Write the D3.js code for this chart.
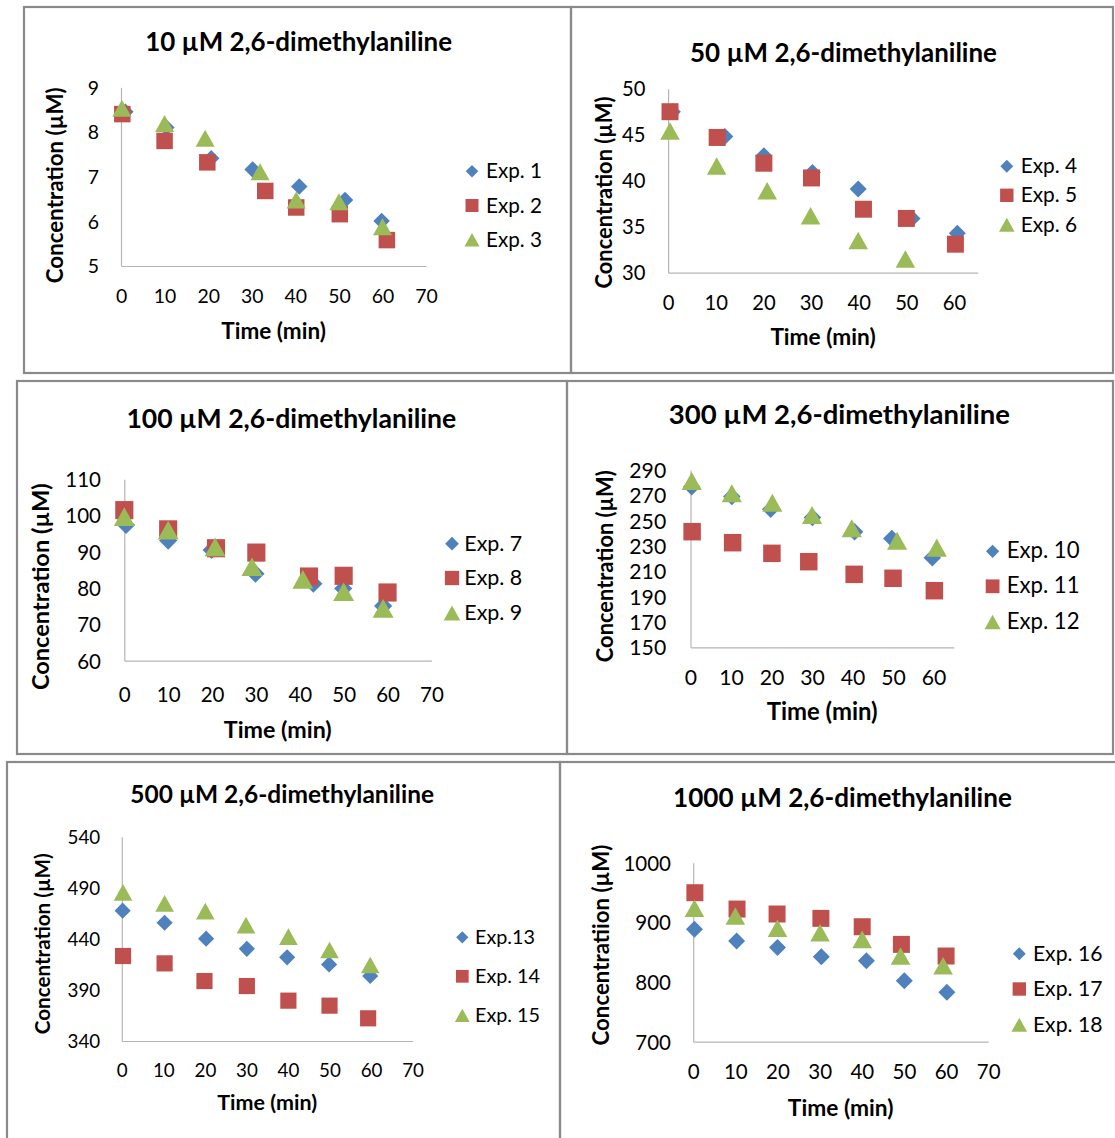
<!DOCTYPE html>
<html><head><meta charset="utf-8">
<script src="https://cdn.jsdelivr.net/npm/d3@7"></script>
<style>
body{margin:0;background:#fff}
svg{display:block}
text{font-family:Lato,"Open Sans",sans-serif;fill:#000}
</style>
</head><body>
<svg id="chart" width="1115" height="1138"></svg>
<script>
// ---------- data ----------
const panelTitles = ["10 µM 2,6-dimethylaniline","50 µM 2,6-dimethylaniline","100 µM 2,6-dimethylaniline",
  "300 µM 2,6-dimethylaniline","500 µM 2,6-dimethylaniline","1000 µM 2,6-dimethylaniline"];
const yAxisTitles = ["Concentration (µM)","Concentration (µM)","Concentration (µM)",
  "Concentration (µM)","Concentration (µM)","Concentratiion (µM)"];
const xAxisTitle = "Time (min)";
const legendLabels = [["Exp. 1","Exp. 2","Exp. 3"],["Exp. 4","Exp. 5","Exp. 6"],["Exp. 7","Exp. 8","Exp. 9"],
  ["Exp. 10","Exp. 11","Exp. 12"],["Exp.13","Exp. 14","Exp. 15"],["Exp. 16","Exp. 17","Exp. 18"]];

const xTicks70 = [0,10,20,30,40,50,60,70];
const xTicks60 = [0,10,20,30,40,50,60];
const yTicks1 = [5,6,7,8,9];
const yTicks2 = [30,35,40,45,50];
const yTicks3 = [60,70,80,90,100,110];
const yTicks4 = [150,170,190,210,230,250,270,290];
const yTicks5 = [340,390,440,490,540];
const yTicks6 = [700,800,900,1000];

// [time (min), concentration (µM)]
const exp1  = [[1.0,8.45],[10.4,8.10],[20.7,7.41],[30.2,7.16],[40.9,6.78],[51.4,6.48],[59.8,6.01]];
const exp2  = [[0.3,8.40],[10.0,7.80],[19.8,7.32],[33.1,6.68],[40.2,6.31],[50.2,6.16],[61.0,5.58]];
const exp3  = [[0.2,8.53],[10.0,8.19],[19.3,7.86],[31.9,7.11],[40.2,6.48],[50.0,6.44],[60.0,5.88]];
const exp4  = [[0.9,47.5],[11.9,44.8],[20.1,42.7],[30.3,40.9],[39.9,39.1],[51.2,35.9],[60.7,34.3]];
const exp5  = [[0.4,47.5],[10.3,44.7],[20.1,41.9],[30.1,40.3],[41.0,36.9],[50.0,35.9],[60.3,33.1]];
const exp6  = [[0.4,45.4],[10.2,41.6],[20.8,38.9],[29.9,36.2],[39.9,33.5],[49.8,31.5]];
const exp7  = [[0.4,97.4],[10.0,93.1],[19.9,90.5],[29.9,84.0],[43.1,81.2],[49.9,79.9],[59.0,75.1]];
const exp8  = [[0.0,101.5],[10.0,96.2],[20.9,91.0],[30.1,89.8],[42.1,83.2],[50.0,83.4],[60.0,78.8]];
const exp9  = [[0.0,99.7],[10.0,96.0],[20.7,91.4],[29.1,85.9],[40.7,82.4],[50.0,79.0],[59.0,74.4]];
const exp10 = [[0.3,276.8],[10.2,269.0],[19.8,259.0],[30.1,252.4],[40.5,241.3],[49.7,236.0],[59.7,220.8]];
const exp11 = [[0.4,241.3],[10.4,232.6],[20.1,224.2],[29.2,217.6],[40.4,207.6],[50.0,204.5],[60.2,194.7]];
const exp12 = [[0.3,281.3],[10.2,271.6],[20.2,264.2],[30.0,254.5],[39.8,244.0],[51.0,234.2],[60.8,228.7]];
const exp13 = [[0.2,467.6],[10.3,455.8],[20.3,440.2],[30.1,430.2],[39.8,421.9],[49.9,415.0],[59.8,403.6]];
const exp14 = [[0.3,423.2],[10.3,416.0],[19.9,398.7],[30.1,393.8],[40.1,379.5],[50.0,374.6],[59.3,362.2]];
const exp15 = [[0.3,485.5],[10.3,474.7],[20.1,467.2],[29.9,453.5],[40.1,442.1],[50.0,429.1],[59.8,414.4]];
const exp16 = [[0.3,888.3],[10.3,868.7],[20.0,858.0],[30.4,842.5],[41.1,835.8],[50.1,802.2],[60.2,782.7]];
const exp17 = [[0.4,949.7],[10.4,922.3],[19.9,914.0],[30.3,906.7],[40.1,892.7],[49.4,863.1],[60.0,843.6]];
const exp18 = [[0.3,923.5],[10.0,910.6],[20.0,890.0],[30.1,882.7],[40.1,871.5],[49.2,843.6],[59.3,827.4]];

const panelSeries = [[exp1,exp2,exp3],[exp4,exp5,exp6],[exp7,exp8,exp9],
  [exp10,exp11,exp12],[exp13,exp14,exp15],[exp16,exp17,exp18]];
const xDomains = [[0,70],[0,65],[0,70],[0,65],[0,70],[0,70]];
const yDomains = [[5,9],[30,50],[60,110],[150,290],[340,540],[700,1000]];
const xTickSets = [xTicks70,xTicks60,xTicks70,xTicks60,xTicks70,xTicks70];
const yTickSets = [yTicks1,yTicks2,yTicks3,yTicks4,yTicks5,yTicks6];

// ---------- layout ----------
const layout = [
 {frame:[24,7,571,373], x0:121, x1:426.1, yTop:87.3, yBot:266, labelRight:99, tickBase:303.3, tickFs:19.4,
  title:[298.6,50.7,307], xTitle:[273.6,339.3,104.6], yTitle:[54.8,185.3,196],
  legX:472, legTextX:486, legBase:[178.3,212.5,246.7], legW:56, ms:1.0},
 {frame:[571,7,1113,373], x0:668.1, x1:977.8, yTop:88.7, yBot:272.7, labelRight:645.4, tickBase:310, tickFs:20.2,
  title:[843.5,61.7,307], xTitle:[823,345,105.3], yTitle:[603,192.5,192],
  legX:1006.8, legTextX:1020.7, legBase:[173.3,202.3,231.7], legW:56.5, ms:1.03},
 {frame:[17,381,567,754], x0:124.3, x1:431.4, yTop:479.3, yBot:660.7, labelRight:101, tickBase:701.7, tickFs:20.5,
  title:[291.3,427.7,330], xTitle:[277.8,738.3,108], yTitle:[40.4,586.7,207],
  legX:452, legTextX:464.3, legBase:[550.7,585,620], legW:58, ms:1.1},
 {frame:[567,381,1113,754], x0:690.5, x1:953.8, yTop:470, yBot:647.3, labelRight:666.2, tickBase:685, tickFs:21.2,
  title:[839.4,424,341.5], xTitle:[822.2,720,111], yTitle:[604.5,566.2,192],
  legX:992.6, legTextX:1006.7, legBase:[558.3,593.3,629], legW:72.9, ms:1.06},
 {frame:[7,762,560,1160], x0:121.8, x1:412.6, yTop:836.7, yBot:1041, labelRight:100.2, tickBase:1077.3, tickFs:18.8,
  title:[282.2,802.7,303.8], xTitle:[267.2,1110,99.8], yTitle:[41.8,943.8,181],
  legX:462.3, legTextX:475, legBase:[944.3,983.3,1022.3], legW:60, ms:0.98},
 {frame:[560,762,1130,1160], x0:693.2, x1:988.2, yTop:862.7, yBot:1041.7, labelRight:671, tickBase:1079, tickFs:20.5,
  title:[842.5,807.3,339], xTitle:[840.7,1115.7,105.7], yTitle:[600,945,201],
  legX:1019.3, legTextX:1032.9, legBase:[960.7,996,1031.7], legW:69.6, ms:1.03}
];

const colors = ["#4F81BD","#C0504D","#9BBB59"];
const shapes = ["diamond","square","triangle"];
const dataSize = {diamond:16.5, square:16.5, triangle:17};
const legSize = {diamond:12.5, square:13, triangle:13.5};

function markerPath(shape, s){
  const h = s/2;
  if (shape==="diamond") return `M0,${-h}L${h},0L0,${h}L${-h},0Z`;
  if (shape==="square") return `M${-h},${-h}H${h}V${h}H${-h}Z`;
  const w = s*0.56;
  return `M0,${-h}L${w},${h}L${-w},${h}Z`;
}
function fit(sel, target){
  const w = sel.node().getComputedTextLength();
  const fs = parseFloat(sel.attr("font-size"));
  if (w>0) sel.attr("font-size", fs*target/w);
}

const svg = d3.select("#chart");
svg.append("rect").attr("width",1115).attr("height",1138).attr("fill","#fff");

layout.forEach((L,i)=>{
  const g = svg.append("g");
  // frame
  const [fx0,fy0,fx1,fy1] = L.frame;
  g.append("rect").attr("x",fx0).attr("y",fy0).attr("width",fx1-fx0).attr("height",fy1-fy0)
    .attr("fill","none").attr("stroke","#8a8a8a").attr("stroke-width",2.2);

  const x = d3.scaleLinear().domain(xDomains[i]).range([L.x0,L.x1]);
  const y = d3.scaleLinear().domain(yDomains[i]).range([L.yBot,L.yTop]);

  // x axis
  const gx = g.append("g").attr("transform",`translate(0,${L.yBot})`)
    .call(d3.axisBottom(x).tickValues(xTickSets[i]).tickSize(0).tickFormat(d3.format("d")));
  gx.select(".domain").attr("stroke","#b5b5b5").attr("stroke-width",1.2);
  gx.selectAll("text").attr("y",L.tickBase-L.yBot).attr("dy",null)
    .attr("font-size",L.tickFs).attr("font-family","Lato").attr("fill","#000");

  // y axis
  const gy = g.append("g").attr("transform",`translate(${L.x0},0)`)
    .call(d3.axisLeft(y).tickValues(yTickSets[i]).tickSize(0).tickPadding(L.x0-L.labelRight).tickFormat(d3.format("d")));
  gy.select(".domain").attr("stroke","#b5b5b5").attr("stroke-width",1.2);
  gy.selectAll("text").attr("dy","0.36em").attr("font-size",L.tickFs).attr("font-family","Lato").attr("fill","#000");

  // title
  const t = g.append("text").attr("x",L.title[0]).attr("y",L.title[1]).attr("text-anchor","middle")
    .attr("font-weight","bold").attr("font-size",22).text(panelTitles[i]);
  fit(t, L.title[2]);

  // x title
  const xt = g.append("text").attr("x",L.xTitle[0]).attr("y",L.xTitle[1]).attr("text-anchor","middle")
    .attr("font-weight","bold").attr("font-size",20).text(xAxisTitle);
  fit(xt, L.xTitle[2]);

  // y title
  const yt = g.append("text").attr("transform",`translate(${L.yTitle[0]},${L.yTitle[1]}) rotate(-90)`)
    .attr("text-anchor","middle").attr("dominant-baseline","central")
    .attr("font-weight","bold").attr("font-size",20).text(yAxisTitles[i]);
  fit(yt, L.yTitle[2]);

  // data markers
  panelSeries[i].forEach((series,k)=>{
    g.append("g").selectAll("path").data(series).join("path")
      .attr("transform",d=>`translate(${x(d[0])},${y(d[1])})`)
      .attr("d",markerPath(shapes[k], dataSize[shapes[k]]*L.ms))
      .attr("fill",colors[k]);
  });

  // legend
  let legFs = 20;
  legendLabels[i].forEach((lab,k)=>{
    const by = L.legBase[k];
    g.append("path").attr("transform",`translate(${L.legX},${by-7})`)
      .attr("d",markerPath(shapes[k], legSize[shapes[k]]*L.ms)).attr("fill",colors[k]);
    const lt = g.append("text").attr("x",L.legTextX).attr("y",by).attr("font-size",legFs).text(lab);
    if (k===0){ fit(lt, L.legW); legFs = parseFloat(lt.attr("font-size")); }
  });
});
</script>
</body></html>
